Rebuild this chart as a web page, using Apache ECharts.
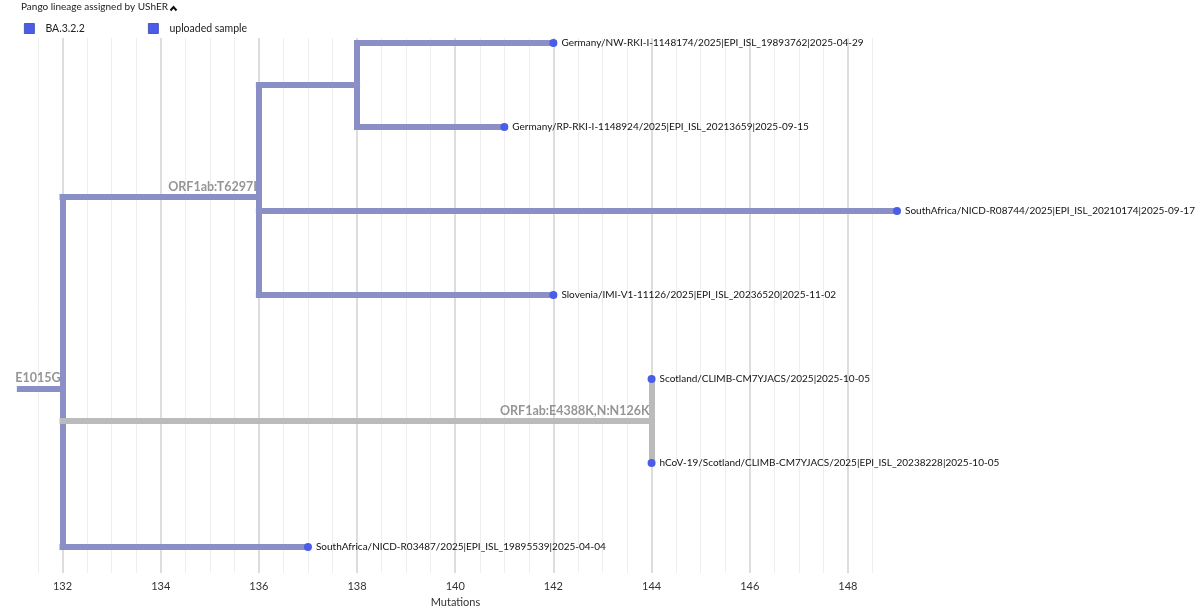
<!DOCTYPE html>
<html lang="en">
<head>
    <meta charset="UTF-8">
    <title>UShER subtree</title>
    <style>
        html, body { margin: 0; padding: 0; background: #fff; }
    </style>
</head>
<body>
<div id="tree" style="width: 1200px;height: 606px;"></div>
<script src="https://cdn.jsdelivr.net/npm/echarts@6/dist/echarts.min.js"></script>
<script>
    /* tips, top to bottom */
    var tipNames = [
        'Germany/NW-RKI-I-1148174/2025|EPI_ISL_19893762|2025-04-29',
        'Germany/RP-RKI-I-1148924/2025|EPI_ISL_20213659|2025-09-15',
        'SouthAfrica/NICD-R08744/2025|EPI_ISL_20210174|2025-09-17',
        'Slovenia/IMI-V1-11126/2025|EPI_ISL_20236520|2025-11-02',
        'Scotland/CLIMB-CM7YJACS/2025|2025-10-05',
        'hCoV-19/Scotland/CLIMB-CM7YJACS/2025|EPI_ISL_20238228|2025-10-05',
        'SouthAfrica/NICD-R03487/2025|EPI_ISL_19895539|2025-04-04'
    ];
    var tipMutations = [142, 141, 149, 142, 144, 144, 137];
    var tipParents = ['B', 'B', 'A', 'A', 'C', 'C', 'root'];

    /* internal nodes */
    var nodeIds = ['root', 'A', 'B', 'C'];
    var nodeMutations = [132, 136, 138, 144];
    var nodeParents = [null, 'root', 'A', 'root'];
    var nodeLabels = ['E1015G', 'ORF1ab:T6297I', '', 'ORF1ab:E4388K,N:N126K'];
    var rootParentMutations = 131.13;

    /* sequences uploaded by the user are drawn grey */
    var uploadedNodes = ['C'];

    var xTicks = [132, 134, 136, 138, 140, 142, 144, 146, 148];

    var BLUE = '#8a90c6', GREY = '#bbbbbb', DOT = '#4b5de8';

    /* build the layout: tips on rows 1..n, internal node = mean of children */
    var nodes = {};
    nodeIds.forEach(function (id, i) {
        nodes[id] = {id: id, x: nodeMutations[i], parent: nodeParents[i], label: nodeLabels[i], kids: []};
    });
    tipNames.forEach(function (name, i) {
        nodes['tip' + i] = {id: 'tip' + i, x: tipMutations[i], y: i + 1, parent: tipParents[i], kids: [], tip: true};
    });
    Object.keys(nodes).forEach(function (k) {
        var n = nodes[k];
        if (n.parent) nodes[n.parent].kids.push(n);
    });
    function layoutY(n) {
        if (n.tip) return n.y;
        var s = 0;
        n.kids.forEach(function (c) { s += layoutY(c); });
        n.y = s / n.kids.length;
        return n.y;
    }
    layoutY(nodes.root);
    function isUploaded(n) {
        while (n) {
            if (uploadedNodes.indexOf(n.id) >= 0) return true;
            n = n.parent ? nodes[n.parent] : null;
        }
        return false;
    }

    var segments = [];
    Object.keys(nodes).forEach(function (k) {
        var n = nodes[k];
        var color = isUploaded(n) ? GREY : BLUE;
        var px = n.parent ? nodes[n.parent].x : rootParentMutations;
        if (px !== n.x) {
            segments.push({coords: [[px, n.y], [n.x, n.y]], lineStyle: {color: color}});
        }
        if (!n.tip) {
            var ys = n.kids.map(function (c) { return c.y; });
            segments.push({coords: [[n.x, Math.min.apply(Math, ys)], [n.x, Math.max.apply(Math, ys)]], lineStyle: {color: color}});
        }
    });
    /* grey on top, like the original */
    segments.sort(function (a, b) { return (a.lineStyle.color === GREY) - (b.lineStyle.color === GREY); });

    var tipData = tipNames.map(function (name, i) {
        return {value: [tipMutations[i], i + 1], name: name};
    });
    var branchLabelData = nodeIds.filter(function (id) { return nodes[id].label; }).map(function (id) {
        return {value: [nodes[id].x, nodes[id].y], name: nodes[id].label};
    });

    var chart = echarts.init(document.getElementById('tree'));
    var option = {
        animation: false,
        textStyle: {fontFamily: 'Lato'},
        title: {
            text: 'Pango lineage assigned by UShER',
            left: 21,
            top: 2,
            padding: 0,
            textStyle: {fontSize: 10, fontWeight: 'normal', color: '#222', fontFamily: 'Lato'}
        },
        graphic: [{
            type: 'polyline',
            shape: {points: [[170.5, 10.5], [173.5, 7], [176.5, 10.5]]},
            style: {stroke: '#111', lineWidth: 2, fill: null}
        }],
        legend: [{
            data: [{name: 'BA.3.2.2', itemStyle: {color: DOT}}],
            left: 24, top: 23, padding: 0,
            icon: 'rect', itemWidth: 10, itemHeight: 10,
            itemStyle: {borderColor: '#3446b0', borderWidth: 0.8},
            textStyle: {fontSize: 10.5, color: '#222', padding: [0, 0, 0, 6]}
        }, {
            data: [{name: 'uploaded sample', itemStyle: {color: DOT}}],
            left: 148, top: 23, padding: 0,
            icon: 'rect', itemWidth: 10, itemHeight: 10,
            itemStyle: {borderColor: '#3446b0', borderWidth: 0.8},
            textStyle: {fontSize: 10.5, color: '#222', padding: [0, 0, 0, 6]}
        }],
        grid: {left: 38, right: 303, top: 38, bottom: 33, outerBoundsMode: 'none'},
        xAxis: [{
            type: 'value',
            min: 131.5, max: 149, interval: 0.5,
            name: 'Mutations',
            nameLocation: 'middle',
            nameGap: 21,
            nameTextStyle: {fontSize: 11, color: '#333', padding: [0, 24, 0, 0]},
            axisLine: {show: false},
            axisTick: {show: false},
            axisLabel: {
                margin: 8,
                fontSize: 11,
                color: '#333',
                formatter: function (v) { return xTicks.indexOf(v) >= 0 ? String(v) : ''; }
            },
            splitLine: {show: true, showMaxLine: false, lineStyle: {color: '#eeeeee', width: 1}}
        }, {
            type: 'value',
            position: 'top',
            min: 131.5, max: 149, interval: 0.5,
            axisLine: {show: false},
            axisTick: {show: false},
            axisLabel: {show: false},
            splitLine: {
                show: true, showMaxLine: false,
                lineStyle: {color: ['transparent', '#dddddd', 'transparent', 'transparent'], width: 2}
            }
        }],
        yAxis: {
            type: 'value',
            inverse: true,
            min: 0.94, max: 7.31,
            show: false
        },
        series: [{
            type: 'lines',
            coordinateSystem: 'cartesian2d',
            clip: false,
            silent: true,
            lineStyle: {width: 6, opacity: 1, cap: 'square'},
            data: segments,
            z: 2
        }, {
            name: 'BA.3.2.2',
            type: 'scatter',
            symbolSize: 8,
            itemStyle: {color: DOT, opacity: 1},
            label: {
                show: true,
                position: 'right',
                distance: 4,
                formatter: '{b}',
                fontSize: 10,
                color: '#111',
                fontFamily: 'Lato'
            },
            data: tipData,
            z: 4
        }, {
            name: 'uploaded sample',
            type: 'scatter',
            itemStyle: {color: DOT, opacity: 1},
            data: []
        }, {
            type: 'scatter',
            symbolSize: 0,
            silent: true,
            clip: false,
            label: {
                show: true,
                position: 'left',
                distance: 2,
                offset: [0, -10],
                formatter: '{b}',
                fontSize: 12.5,
                fontWeight: 'bold',
                color: '#7a7a7a',
                fontFamily: 'Lato'
            },
            data: branchLabelData,
            z: 5
        }]
    };
    chart.setOption(option);
</script>
</body>
</html>
